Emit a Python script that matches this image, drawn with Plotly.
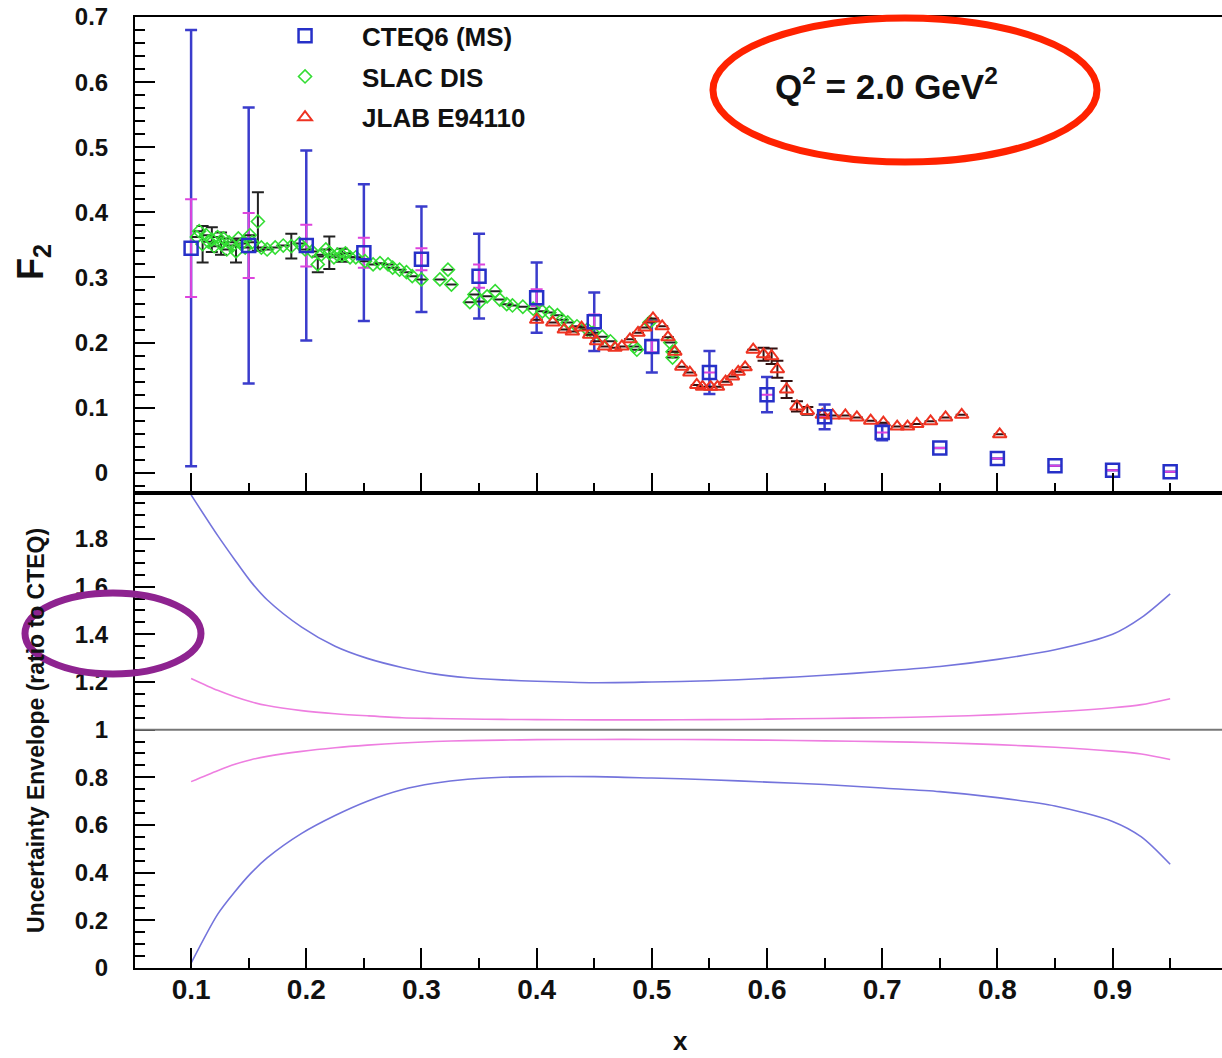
import plotly.graph_objects as go

# ---------------- data ----------------
cteq_x = [0.10, 0.15, 0.20, 0.25, 0.30, 0.35, 0.40, 0.45, 0.50, 0.55, 0.60, 0.65, 0.70, 0.75, 0.80, 0.85, 0.90, 0.95]
cteq_f2 = [0.345, 0.349, 0.349, 0.338, 0.328, 0.302, 0.269, 0.232, 0.194, 0.154, 0.120, 0.086, 0.062, 0.038, 0.022, 0.011, 0.004, 0.0015]
cteq_err_outer = [0.335, 0.212, 0.146, 0.105, 0.081, 0.065, 0.054, 0.045, 0.040, 0.033, 0.027, 0.019, 0.012, 0, 0, 0, 0, 0]
cteq_err_inner = [0.075, 0.050, 0.032, 0.023, 0.017, 0.018, 0.013, 0.011, 0.009, 0, 0, 0, 0, 0, 0, 0, 0, 0]

slac_x = [0.105, 0.107, 0.110, 0.113, 0.115, 0.118, 0.120, 0.123, 0.126, 0.128, 0.131, 0.133, 0.136, 0.139,
          0.141, 0.144, 0.147, 0.151, 0.153, 0.158, 0.161, 0.166, 0.173, 0.180, 0.187, 0.194, 0.199, 0.205,
          0.210, 0.213, 0.217, 0.220, 0.224, 0.227, 0.231, 0.234, 0.238, 0.243, 0.251, 0.258, 0.264, 0.271,
          0.275, 0.281, 0.287, 0.292, 0.300, 0.316, 0.323, 0.326, 0.342, 0.346, 0.351, 0.357, 0.364, 0.368,
          0.374, 0.379, 0.388, 0.397, 0.405, 0.411, 0.418, 0.422, 0.427, 0.435, 0.444, 0.449, 0.457, 0.464,
          0.485, 0.487, 0.498, 0.516, 0.518, 0.518]
slac_f2 = [0.362, 0.371, 0.351, 0.365, 0.355, 0.358, 0.348, 0.362, 0.352, 0.360, 0.343, 0.354, 0.349, 0.340,
           0.360, 0.352, 0.346, 0.365, 0.354, 0.386, 0.346, 0.343, 0.346, 0.349, 0.348, 0.352, 0.343, 0.340,
           0.320, 0.335, 0.343, 0.338, 0.331, 0.335, 0.334, 0.337, 0.331, 0.331, 0.325, 0.320, 0.322, 0.320,
           0.315, 0.312, 0.308, 0.302, 0.297, 0.297, 0.312, 0.289, 0.262, 0.274, 0.263, 0.271, 0.279, 0.266,
           0.259, 0.257, 0.255, 0.252, 0.248, 0.246, 0.242, 0.235, 0.231, 0.225, 0.220, 0.215, 0.209, 0.202,
           0.194, 0.189, 0.231, 0.200, 0.186, 0.177]
slac_err = [0, 0, 0.028, 0, 0, 0.019, 0, 0, 0.017, 0, 0, 0, 0, 0.017,
            0, 0, 0, 0, 0, 0.045, 0, 0, 0, 0, 0.019, 0, 0, 0,
            0.012, 0, 0, 0.025, 0, 0, 0.010, 0, 0, 0, 0, 0, 0, 0,
            0, 0, 0, 0, 0, 0, 0, 0, 0, 0, 0, 0, 0, 0,
            0, 0, 0, 0, 0, 0, 0, 0, 0, 0, 0, 0, 0, 0,
            0, 0, 0, 0, 0, 0]

jlab_x = [0.400, 0.414, 0.424, 0.431, 0.439, 0.446, 0.452, 0.459, 0.468, 0.474, 0.481, 0.488, 0.494, 0.501,
          0.509, 0.514, 0.520, 0.526, 0.533, 0.539, 0.544, 0.551, 0.557, 0.564, 0.570, 0.575, 0.581, 0.588,
          0.597, 0.604, 0.609, 0.617, 0.626, 0.635, 0.648, 0.657, 0.668, 0.678, 0.690, 0.701, 0.713, 0.722,
          0.730, 0.742, 0.755, 0.769, 0.802]
jlab_f2 = [0.235, 0.231, 0.220, 0.217, 0.223, 0.212, 0.202, 0.194, 0.192, 0.194, 0.205, 0.215, 0.223, 0.237,
           0.225, 0.208, 0.186, 0.163, 0.154, 0.135, 0.132, 0.132, 0.132, 0.140, 0.148, 0.155, 0.162, 0.189,
           0.182, 0.179, 0.159, 0.128, 0.102, 0.095, 0.089, 0.088, 0.088, 0.085, 0.080, 0.077, 0.071, 0.071,
           0.075, 0.079, 0.085, 0.089, 0.059]
jlab_err = [0, 0, 0, 0, 0, 0, 0, 0, 0, 0, 0, 0, 0, 0,
            0, 0, 0, 0, 0, 0, 0, 0, 0, 0, 0, 0, 0, 0,
            0.010, 0.012, 0.013, 0.013, 0.008, 0.006, 0, 0, 0, 0, 0, 0, 0, 0,
            0, 0, 0, 0, 0]

env_x = [0.100, 0.123, 0.138, 0.152, 0.166, 0.196, 0.225, 0.253, 0.283, 0.311, 0.340, 0.370, 0.400,
         0.450, 0.500, 0.550, 0.600, 0.650, 0.700, 0.750, 0.800, 0.850, 0.900, 0.925, 0.950]
env_outer_hi = [1.985, 1.815, 1.712, 1.620, 1.545, 1.430, 1.350, 1.299, 1.261, 1.234, 1.218, 1.209, 1.203,
                1.197, 1.200, 1.205, 1.215, 1.228, 1.245, 1.265, 1.295, 1.335, 1.400, 1.470, 1.570]
env_inner_hi = [1.215, 1.165, 1.138, 1.117, 1.101, 1.080, 1.067, 1.058, 1.050, 1.047, 1.045, 1.043, 1.042,
                1.041, 1.041, 1.042, 1.044, 1.047, 1.050, 1.055, 1.063, 1.075, 1.092, 1.105, 1.130]
env_inner_lo = [0.782, 0.828, 0.855, 0.874, 0.888, 0.909, 0.924, 0.935, 0.944, 0.950, 0.954, 0.956, 0.958,
                0.959, 0.959, 0.958, 0.956, 0.953, 0.950, 0.945, 0.937, 0.926, 0.910, 0.898, 0.875]
env_outer_lo = [0.020, 0.225, 0.320, 0.398, 0.462, 0.565, 0.640, 0.700, 0.748, 0.775, 0.792, 0.800, 0.803,
                0.803, 0.797, 0.790, 0.780, 0.770, 0.755, 0.740, 0.715, 0.680, 0.615, 0.550, 0.435]

x_ticks = [0.1, 0.2, 0.3, 0.4, 0.5, 0.6, 0.7, 0.8, 0.9]

# ---------------- styles ----------------
BOLD = "Liberation Sans"
NARROW = "Liberation Sans Narrow, Liberation Sans, Arial"
BLUE = "#2630c8"
BLUE_ERR = "#3a3ccc"
MAGENTA = "#dd44dd"
GREEN = "#33dd33"
RED = "#ee3322"

fig = go.Figure()

# CTEQ outer error bars
fig.add_trace(go.Scatter(
    x=cteq_x, y=cteq_f2, mode="markers", xaxis="x2", yaxis="y2",
    marker=dict(size=2, opacity=0), showlegend=False, hoverinfo="skip",
    error_y=dict(type="data", array=cteq_err_outer, color=BLUE_ERR, thickness=2.5, width=6)))
# CTEQ inner error bars
fig.add_trace(go.Scatter(
    x=cteq_x, y=cteq_f2, mode="markers", xaxis="x2", yaxis="y2",
    marker=dict(size=2, opacity=0), showlegend=False, hoverinfo="skip",
    error_y=dict(type="data", array=cteq_err_inner, color=MAGENTA, thickness=2, width=6)))

# SLAC
fig.add_trace(go.Scatter(
    x=slac_x, y=slac_f2, mode="markers", xaxis="x2", yaxis="y2", name="SLAC DIS",
    legendrank=2, legendgroup="b",
    marker=dict(symbol="diamond-open", size=10, color=GREEN, line=dict(width=1.6, color=GREEN)),
    error_y=dict(type="data", array=slac_err, color="#222222", thickness=2, width=6)))

# JLAB
fig.add_trace(go.Scatter(
    x=jlab_x, y=jlab_f2, mode="markers", xaxis="x2", yaxis="y2", name="JLAB E94110",
    legendrank=3, legendgroup="c",
    marker=dict(symbol="triangle-up-open", size=12, color=RED, line=dict(width=2, color=RED)),
    error_y=dict(type="data", array=jlab_err, color="#331111", thickness=2, width=6)))

# CTEQ squares
fig.add_trace(go.Scatter(
    x=cteq_x, y=cteq_f2, mode="markers", xaxis="x2", yaxis="y2", name="CTEQ6 (MS)",
    legendrank=1, legendgroup="a",
    marker=dict(symbol="square-open", size=13, color=BLUE, line=dict(width=2.5, color=BLUE))))

# Ratio envelopes
for arr, col in [(env_outer_hi, "#7474dc"), (env_inner_hi, "#ee7ee0"),
                 (env_inner_lo, "#ee7ee0"), (env_outer_lo, "#7474dc")]:
    fig.add_trace(go.Scatter(x=env_x, y=arr, mode="lines", xaxis="x", yaxis="y",
                             line=dict(color=col, width=1.6, shape="spline", smoothing=0.8),
                             showlegend=False, hoverinfo="skip"))

common_x = dict(
    range=[0.0513, 0.995], tickmode="array", tickvals=x_ticks, ticks="inside", ticklen=20,
    tickwidth=1.5, tickcolor="black", showline=True, linewidth=2, linecolor="black",
    showgrid=False, zeroline=False,
    minor=dict(ticks="inside", ticklen=10, tickwidth=1.5, tickcolor="black", dtick=0.05, tick0=0, showgrid=False),
)

fig.update_layout(
    width=1222, height=1058,
    margin=dict(l=135, r=0, t=17, b=90),
    paper_bgcolor="white", plot_bgcolor="white",
    font=dict(family=BOLD, color="black"),
    xaxis=dict(**common_x, anchor="y", mirror=True,
               tickfont=dict(family=NARROW, size=28, weight="bold", color="#111"),
               ticklabelstandoff=-5),
    xaxis2=dict(**common_x, anchor="y2", matches="x", showticklabels=False, mirror=True),
    yaxis=dict(domain=[0, 0.4995], range=[0, 1.993], tick0=0, dtick=0.2, ticks="inside", ticklen=20,
               tickwidth=1.5, tickcolor="black", showline=True, linewidth=2, linecolor="black",
               showgrid=False, zeroline=False, ticklabelstandoff=20,
               tickfont=dict(family=BOLD, size=24, weight="bold", color="#111"),
               minor=dict(ticks="inside", ticklen=10, tickwidth=1.5, tickcolor="black", dtick=0.05, tick0=0, showgrid=False)),
    yaxis2=dict(domain=[0.4995, 1], range=[-0.031, 0.7], tick0=0, dtick=0.1, ticks="inside", ticklen=20,
                tickwidth=1.5, tickcolor="black", showline=True, linewidth=2, linecolor="black",
                showgrid=False, zeroline=False, ticklabelstandoff=20,
                tickfont=dict(family=BOLD, size=24, weight="bold", color="#111"),
                minor=dict(ticks="inside", ticklen=10, tickwidth=1.5, tickcolor="black", dtick=0.02, tick0=0, showgrid=False)),
    legend=dict(x=0.104, y=1.005, xanchor="left", yanchor="top", bgcolor="rgba(0,0,0,0)",
                font=dict(family=BOLD, size=26, weight="bold", color="#111"),
                itemwidth=104, tracegroupgap=4, traceorder="grouped"),
    showlegend=True,
)

# reference line at ratio 1
fig.add_shape(type="line", xref="paper", yref="y", x0=0, x1=1, y0=1, y1=1,
              line=dict(color="#777777", width=2))

# highlight ellipses
fig.add_shape(type="circle", xref="paper", yref="paper", x0=0.5317, x1=0.885, y0=0.8475, y1=0.999,
              line=dict(color="#ff2200", width=7))
fig.add_shape(type="circle", xref="paper", yref="paper", x0=-0.1012, x1=0.0607, y0=0.3091, y1=0.3943,
              line=dict(color="#8e2390", width=7))

# texts
fig.add_annotation(x=0.6918, y=0.9295, xref="paper", yref="paper", showarrow=False,
                   xanchor="center", yanchor="middle",
                   text="Q<sup>2</sup> = 2.0 GeV<sup>2</sup>",
                   font=dict(family=BOLD, size=35, weight="bold", color="#111"))
fig.add_annotation(x=-0.0938, y=0.7424, xref="paper", yref="paper", showarrow=False, textangle=-90,
                   xanchor="center", yanchor="middle",
                   text="F<sub>2</sub>", font=dict(family=BOLD, size=36, weight="bold", color="#111"))
fig.add_annotation(x=-0.0911, y=0.2503, xref="paper", yref="paper", showarrow=False, textangle=-90,
                   xanchor="center", yanchor="middle",
                   text="Uncertainty Envelope (ratio to CTEQ)",
                   font=dict(family=BOLD, size=23, weight="bold", color="#111"))
fig.add_annotation(x=0.5014, y=-0.0946, xref="paper", yref="paper", showarrow=False,
                   xanchor="center", yanchor="bottom",
                   text="x", font=dict(family=BOLD, size=26, weight="bold", color="#111"))

fig.write_html("out.html")
